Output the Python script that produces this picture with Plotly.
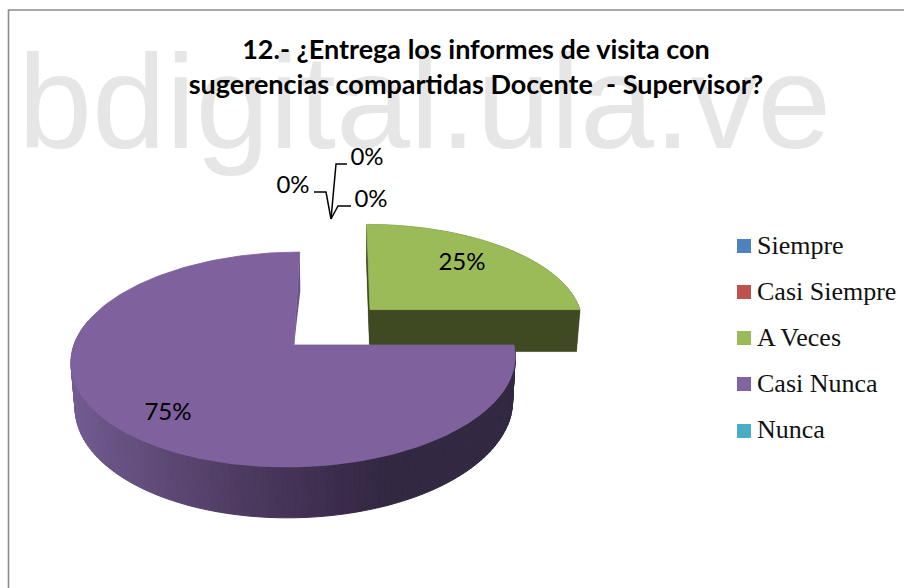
import numpy as np
import plotly.graph_objects as go

categories = ["Siempre", "Casi Siempre", "A Veces", "Casi Nunca", "Nunca"]
values = [0, 0, 25, 75, 0]
colors = ["#4f81bd", "#c0504d", "#9bbb59", "#7f619d", "#4bacc6"]
legend_colors = ["#4f81bd", "#c0504d", "#9bbb59", "#8064a2", "#4bacc6"]
wall_green = "#3f4a22"
wall_inner = "#6a5388"
title_text = "12.- ¿Entrega los informes de visita con<br>sugerencias compartidas Docente  - Supervisor?"
watermark = "bdigital.ula.ve"

# 3-D pie geometry (screen pixels are the axis units)
CX, CY, R, K, P, VX = 294.0, 345.0, 220.0, 105.5, 0.135, 342.0
DEPTH, ZS = 44.0, 0.985
EXPLODE = {2: 0.497, 3: 0.0}


def project(X, Y, low=False):
    X, Y = np.asarray(X, float), np.asarray(Y, float)
    s = 1 / (1 + P * Y)
    x = VX + (CX + R * X - VX) * s
    y = CY - K * Y * s
    if low:
        x = VX + (x - VX) * ZS
        y = y + DEPTH * s
    return x, y


def slice_ring(start, end, idx):
    n = max(int((end - start) / 1.5), 2)
    th = np.radians(np.linspace(start, end, n + 1))
    mid = np.radians((start + end) / 2)
    ox, oy = EXPLODE[idx] * np.sin(mid), EXPLODE[idx] * np.cos(mid)
    return ox + np.sin(th), oy + np.cos(th), ox, oy


def poly(x, y, color, width=0.0):
    return go.Scatter(
        x=list(x), y=list(y), mode="lines", fill="toself", fillcolor=color,
        line=dict(color=color, width=width), hoverinfo="skip", showlegend=False,
    )


def hex_rgb(h):
    return np.array([int(h[i:i + 2], 16) for i in (1, 3, 5)], float)


stops_x = [-1.0, -0.6, -0.2, 0.2, 0.4, 1.0]
stops_c = [hex_rgb(c) for c in ["#745d95", "#634e7d", "#4f3c62", "#3c2c4c", "#322842", "#322842"]]


def wall_color(X):
    c = [np.interp(X, stops_x, [s[i] for s in stops_c]) for i in range(3)]
    return "rgb(%d,%d,%d)" % tuple(c)


fig = go.Figure()
angles = np.cumsum([0] + values) * 3.6

# Watermark sits behind every mark and text
fig.add_trace(go.Scatter(
    x=[18], y=[181], mode="text", text=[watermark], textposition="top right",
    textfont=dict(family="Liberation Sans", size=133, color="#e6e6e6"),
    hoverinfo="skip", showlegend=False,
))

# Chart frame (open on the right and bottom, as cropped in the source)
fig.add_shape(type="path", path="M 8.5 588 L 8.5 10 L 904 10",
              line=dict(color="#8c8c8c", width=1.6), xref="x", yref="y", layer="below")

# A Veces: extruded body, then top face
i = 2
XR, YR, ox, oy = slice_ring(angles[i], angles[i + 1], i)
Xp, Yp = np.r_[ox, XR, ox], np.r_[oy, YR, oy]
xl, yl = project(Xp, Yp, True)
xt, yt = project(Xp, Yp)
fig.add_trace(poly(xl, yl, wall_green))
for k in range(len(Xp) - 1):
    fig.add_trace(poly([xt[k], xt[k + 1], xl[k + 1], xl[k], xt[k]],
                       [yt[k], yt[k + 1], yl[k + 1], yl[k], yt[k]], wall_green, 0.3))
fig.add_trace(poly(xt, yt, colors[i], 0.8))

# Casi Nunca: inner wall, shaded side wall, then top face
i = 3
XR, YR, ox, oy = slice_ring(angles[i], angles[i + 1], i)
Xp, Yp = np.r_[ox, XR, ox], np.r_[oy, YR, oy]
xl, yl = project(Xp, Yp, True)
xt, yt = project(Xp, Yp)
fig.add_trace(poly([xt[-2], xl[-2], xt[-1], xt[-2]], [yt[-2], yl[-2], yt[-1], yt[-2]], wall_inner))
visible = np.where(YR < 0.25)[0]
for k in visible[:-1]:
    xa, ya = project(XR[k:k + 2], YR[k:k + 2])
    xb, yb = project(XR[k:k + 2], YR[k:k + 2], True)
    col = wall_color(XR[k:k + 2].mean())
    fig.add_trace(poly(np.r_[xa, xb[::-1], xa[0]], np.r_[ya, yb[::-1], ya[0]], col, 1.0))
fig.add_trace(poly(xt, yt, colors[i], 0.8))

# Data labels
label_font = dict(family="Lato", size=24, color="#000000")
label_text = ["0%", "0%", "25%", "75%", "0%"]
label_x = [293, 367, 462, 168, 371]
label_y = [187, 159, 264, 414, 201]
fig.add_trace(go.Scatter(
    x=label_x, y=label_y, mode="text", text=label_text, textfont=label_font,
    textposition="middle center", hoverinfo="skip", showlegend=False,
))

# Leader lines of the zero-value labels
leaders_x = [[314, 326, 331], [347, 336, 331], [351, 338, 331]]
leaders_y = [[192, 192, 219], [164, 164, 219], [206, 206, 219]]
for lx, ly in zip(leaders_x, leaders_y):
    fig.add_trace(go.Scatter(x=lx, y=ly, mode="lines", line=dict(color="#000000", width=1.5),
                             hoverinfo="skip", showlegend=False))

# Key: one swatch and one label per category
key_x, key_text_x = 744, 757
key_y = [246, 292, 338, 384, 431]
key_text_y = [247, 293, 339, 385, 431]
for name, col, ky, ty in zip(categories, legend_colors, key_y, key_text_y):
    fig.add_trace(go.Scatter(
        x=[key_x], y=[ky], mode="markers", name=name, hoverinfo="name", showlegend=False,
        marker=dict(symbol="square", size=14, color=col),
    ))
    fig.add_trace(go.Scatter(
        x=[key_text_x], y=[ty], mode="text", text=[name], textposition="middle right",
        textfont=dict(family="Liberation Serif", size=26, color="#111111"),
        hoverinfo="skip", showlegend=False,
    ))

fig.update_layout(
    width=904, height=588, margin=dict(l=0, r=0, t=0, b=0),
    paper_bgcolor="#ffffff", plot_bgcolor="rgba(0,0,0,0)",
    xaxis=dict(range=[0, 904], visible=False, fixedrange=True),
    yaxis=dict(range=[588, 0], visible=False, fixedrange=True),
    title=dict(
        text="<b>%s</b>" % title_text, x=476 / 904, xanchor="center", y=1 - 58.5 / 588, yanchor="middle",
        font=dict(family="Lato", size=27, color="#000000"),
    ),
    showlegend=False,
)
fig.write_html(
    "out.html",
    config={"displayModeBar": False},
    post_script="document.body.style.margin='0';document.documentElement.style.overflow='hidden';",
)
